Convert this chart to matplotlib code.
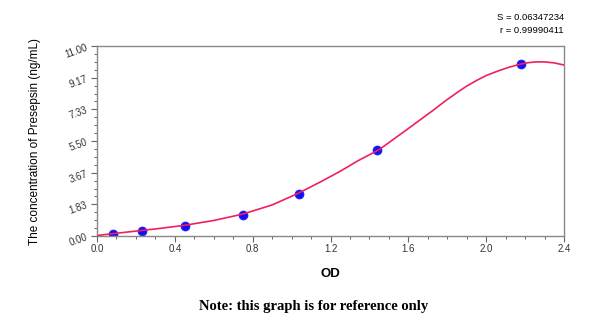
import matplotlib
matplotlib.use("Agg")
import matplotlib.pyplot as plt
import numpy as np
from matplotlib.ticker import AutoMinorLocator

plt.rcParams["font.family"] = ["Liberation Sans", "DejaVu Sans"]

# standards (OD, concentration)
od = [0.08, 0.23, 0.45, 0.75, 1.04, 1.44, 2.18]
conc = [0.12, 0.30, 0.60, 1.22, 2.45, 4.98, 9.98]

# fitted curve
curve_x = [0.0, 0.1, 0.22, 0.33, 0.45, 0.6, 0.75, 0.9, 1.03, 1.16, 1.25, 1.34,
           1.45, 1.52, 1.59, 1.66, 1.73, 1.79, 1.85, 1.9, 1.95, 2.0, 2.06,
           2.12, 2.18, 2.22, 2.26, 2.3, 2.35, 2.4]
curve_y = [0.03, 0.16, 0.31, 0.45, 0.62, 0.9, 1.27, 1.8, 2.45, 3.2, 3.75, 4.35,
           5.0, 5.57, 6.14, 6.72, 7.3, 7.82, 8.3, 8.68, 9.0, 9.29, 9.55,
           9.78, 9.96, 10.04, 10.08, 10.08, 10.02, 9.9]

x_ticks = [0.0, 0.4, 0.8, 1.2, 1.6, 2.0, 2.4]
y_ticks = [0.0, 11 / 6, 22 / 6, 33 / 6, 44 / 6, 55 / 6, 11.0]
y_labels = ["0.00", "1.83", "3.67", "5.50", "7.33", "9.17", "11.00"]

fig = plt.figure(figsize=(6.0, 3.23), dpi=100)
ax = fig.add_axes([0.1617, 0.2693, 0.7783, 0.5883])

ax.plot(curve_x, curve_y, color="#f0205a", lw=1.2, zorder=3)
ax.plot(od, conc, "o", color="#1010f0", mec="#2020ff", ms=6, zorder=2)

ax.set_xlim(0, 2.4)
ax.set_ylim(0, 11)
ax.set_xticks(x_ticks)
ax.set_xticklabels([f"{v:.1f}" for v in x_ticks], fontsize=7, color="#333333")
ax.set_yticks(y_ticks)
ax.set_yticklabels(y_labels, fontsize=7, color="#333333", rotation=20)
ax.xaxis.set_minor_locator(AutoMinorLocator(4))
ax.yaxis.set_minor_locator(AutoMinorLocator(4))
ax.tick_params(which="major", length=4, width=0.8, color="#666666", pad=2)
ax.tick_params(which="minor", length=2.5, width=0.7, color="#666666")
for s in ax.spines.values():
    s.set_color("#888888")
    s.set_linewidth(1.0)

ax.set_xlabel("OD", fontsize=9.5, fontweight="bold", labelpad=10)
ax.set_ylabel("The concentration of Presepsin (ng/mL)", fontsize=8.5, labelpad=16)

fig.text(0.94, 0.945, "S = 0.06347234", ha="right", va="center", fontsize=6.8)
fig.text(0.94, 0.905, "r = 0.99990411", ha="right", va="center", fontsize=6.8)
fig.text(0.522, 0.05, "Note: this graph is for reference only", ha="center", va="center",
         fontsize=10.5, fontweight="bold", family="Liberation Serif")

fig.savefig("out.png", dpi=100)
